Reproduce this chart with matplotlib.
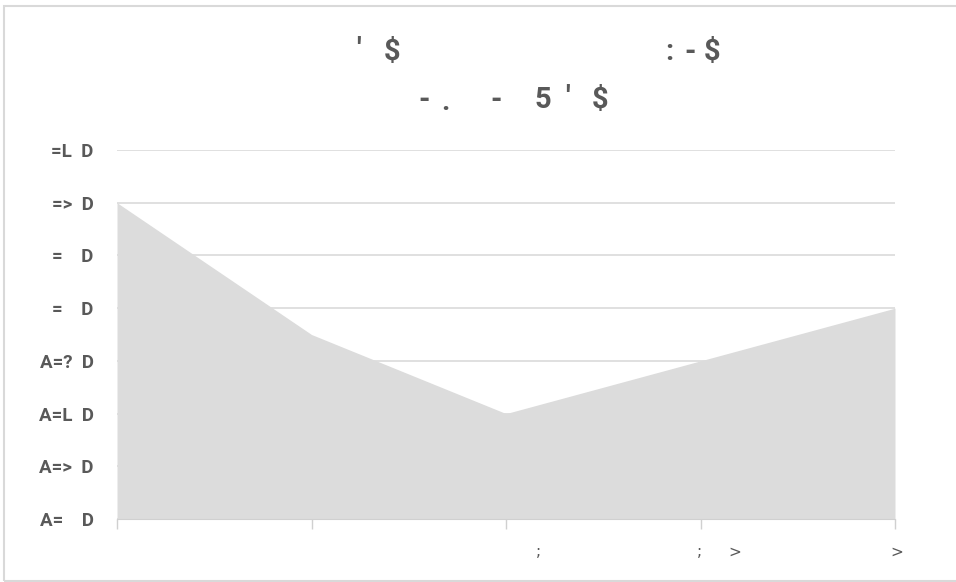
import matplotlib.pyplot as plt
from matplotlib.patches import Rectangle
from matplotlib import transforms

# values (tick units, 0 = bottom gridline)
x_pos = [0, 1, 2, 3, 4]
values = [6, 3.5, 2, 3, 4]
y_ticks = [0, 1, 2, 3, 4, 5, 6, 7]
y_labels = ["A=    D", "A=>  D", "A=L  D", "A=?  D", "=    D", "=    D", "=>  D", "=L  D"]
# x labels with their pixel offset from the tick
x_labels = [(2, ";", 32), (3, ";", -1), (3, ">", 34), (4, ">", 2)]
# title fragments (x px, y px, text)
title_parts = [(358, 50, "'"), (392, 52, "$"), (669, 52, ":"), (690, 52, "-"), (712, 52, "$"),
               (424, 100, "-"), (445, 102, "."), (496, 100, "-"), (543, 100, "5"),
               (567, 98, "'"), (600, 100, "$")]

W, H = 956, 582
grey = '#595959'
fig = plt.figure(figsize=(W / 100, H / 100), dpi=100)
ax = fig.add_axes([117 / W, (H - 519) / H, (895 - 117) / W, (519 - 150) / H])

ax.fill_between(x_pos, values, 0, color='#dcdcdc', lw=0, zorder=2)
ax.set_xlim(0, 4)
ax.set_ylim(0, 7)
ax.set_yticks(y_ticks)
ax.set_yticklabels(y_labels, fontsize=13.5, fontweight='bold', color=grey, family='Roboto')
ax.tick_params(axis='y', length=0, pad=17)
ax.set_xticks(x_pos)
ax.set_xticklabels([])
ax.tick_params(axis='x', length=7, color='#d0d0d0', width=1)
ax.grid(axis='y', color='#dadada', lw=1.2, zorder=1)
for s in ['top', 'right', 'left']:
    ax.spines[s].set_visible(False)
ax.spines['bottom'].set_color('#d0d0d0')

for i, txt, dx in x_labels:
    tr = transforms.offset_copy(transforms.blended_transform_factory(ax.transData, ax.transAxes),
                                fig=fig, x=dx, y=-33, units='dots')
    ax.text(i, 0, txt, transform=tr, ha='center', va='center', fontsize=11, color=grey)

for px, py, txt in title_parts:
    fig.text(px / W, 1 - py / H, txt, ha='center', va='center', fontsize=21,
             fontweight='bold', color=grey, family='Roboto')

fig.patches.append(Rectangle((4 / W, 1 / H), 1.2, 1 - 7 / H, transform=fig.transFigure,
                             fill=False, ec='#d9d9d9', lw=1.5))

fig.savefig('out.png', dpi=100)
